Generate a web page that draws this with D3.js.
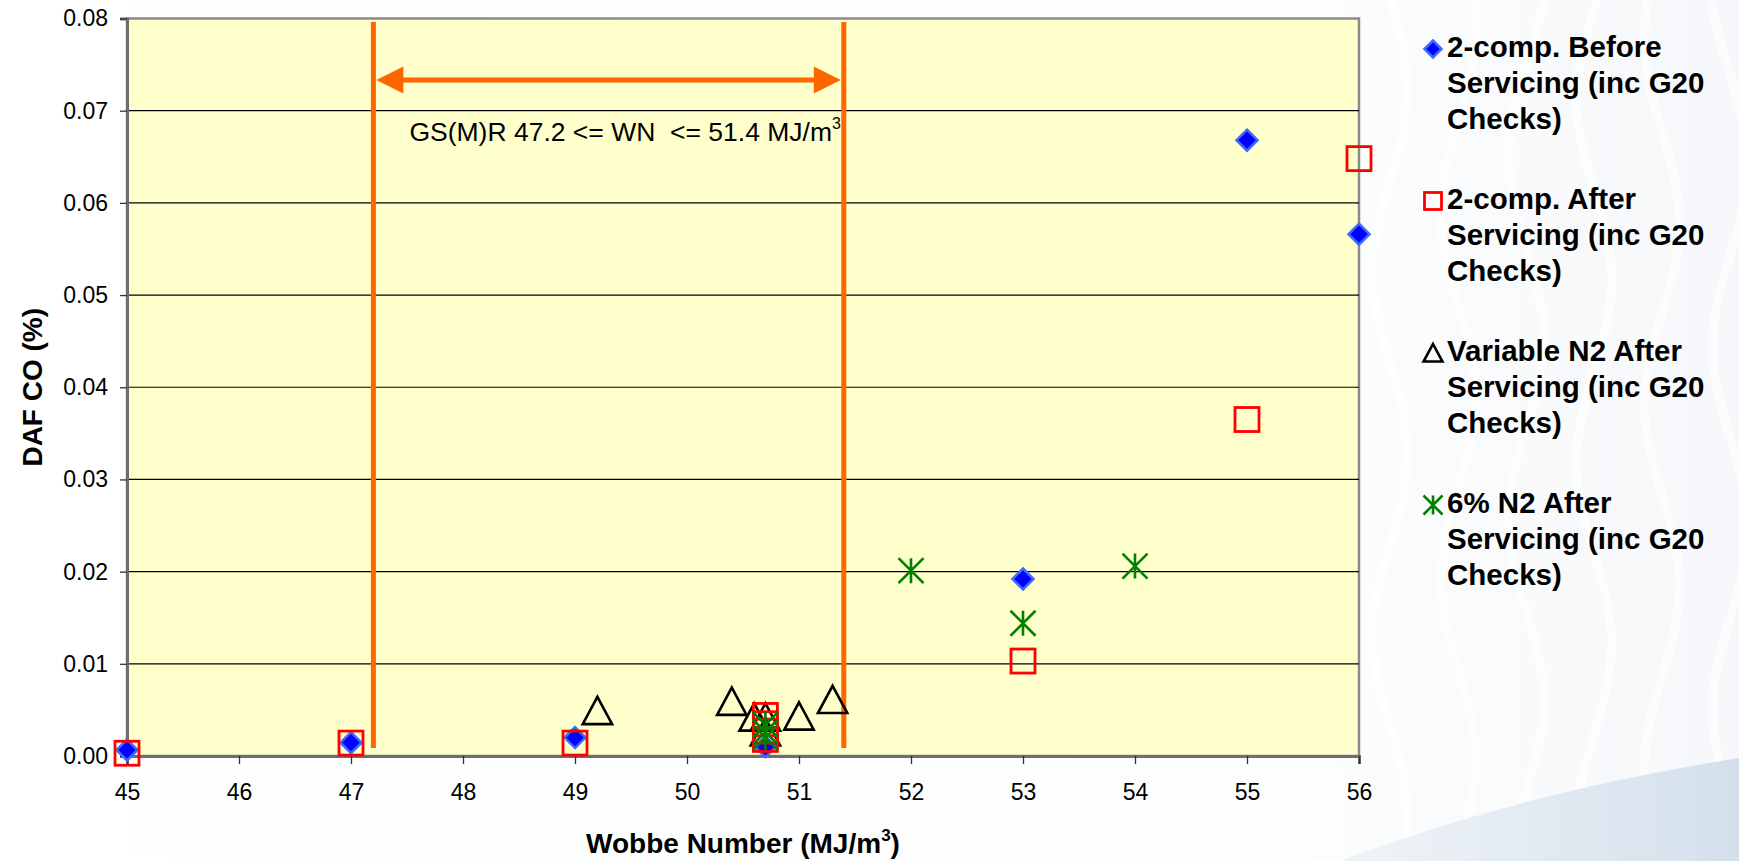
<!DOCTYPE html>
<html>
<head>
<meta charset="utf-8">
<script src="https://cdn.jsdelivr.net/npm/d3@7/dist/d3.min.js"></script>
<style>
  html, body { margin: 0; padding: 0; background: #ffffff; }
  svg { display: block; }
  text { font-family: "Liberation Sans", Arial, Helvetica, sans-serif; }
</style>
</head>
<body>
<svg id="chart" width="1739" height="861"></svg>
<script>
// Wobbe number (MJ/m3) against dry air-free CO (%)
const wobbeBefore = [45, 47, 49, 50.7, 53, 55, 56];
const coBefore    = [0.00065, 0.00145, 0.0020, 0.0010, 0.0192, 0.0668, 0.0566];

const wobbeAfter = [45, 47, 49, 50.7, 50.7, 50.7, 50.7, 53, 55, 56];
const coAfter    = [0.0003, 0.0014, 0.0014, 0.0044, 0.0035, 0.0027, 0.0018, 0.0103, 0.0365, 0.0648];

const wobbeVarN2 = [49.2, 50.4, 50.6, 50.7, 50.7, 51.0, 51.3];
const coVarN2    = [0.0049, 0.0059, 0.0042, 0.0042, 0.0026, 0.0043, 0.0061];

const wobbe6N2 = [50.7, 50.7, 50.7, 52, 53, 54];
const co6N2    = [0.0034, 0.0026, 0.0020, 0.0201, 0.0144, 0.0206];

const xTicks = [45, 46, 47, 48, 49, 50, 51, 52, 53, 54, 55, 56];
const yTicks = [0, 0.01, 0.02, 0.03, 0.04, 0.05, 0.06, 0.07, 0.08];

// GS(M)R permitted Wobbe range
const rangeLow = 47.2;
const rangeHigh = 51.4;

const seriesNames = [
  ["2-comp. Before", "Servicing (inc G20", "Checks)"],
  ["2-comp. After", "Servicing (inc G20", "Checks)"],
  ["Variable N2 After", "Servicing (inc G20", "Checks)"],
  ["6% N2 After", "Servicing (inc G20", "Checks)"]
];

const svg = d3.select("#chart");
const W = 1739, H = 861;

// ---- page backdrop ----
const defs = svg.append("defs");
const bg = defs.append("linearGradient").attr("id", "bgGrad")
  .attr("x1", "0").attr("y1", "0").attr("x2", "1").attr("y2", "0");
bg.append("stop").attr("offset", "0").attr("stop-color", "#ffffff");
bg.append("stop").attr("offset", "0.75").attr("stop-color", "#fcfdfd");
bg.append("stop").attr("offset", "1").attr("stop-color", "#f5f7fa");
svg.append("rect").attr("width", W).attr("height", H).attr("fill", "url(#bgGrad)");

// faint wave pattern on the right
const waves = svg.append("g").attr("fill", "none").attr("stroke", "#ffffff")
  .attr("stroke-width", 9).attr("opacity", 0.7);
for (let i = 0; i < 6; i++) {
  const x0 = 1390 + i * 68;
  const pts = d3.range(0, 18).map(k => [x0 + 20 * Math.sin(k * 0.9 + i), k * 52]);
  waves.append("path").attr("d", d3.line().curve(d3.curveBasis)(pts));
}

const swoosh = defs.append("linearGradient").attr("id", "swooshGrad")
  .attr("x1", "0").attr("y1", "0").attr("x2", "1").attr("y2", "0");
swoosh.append("stop").attr("offset", "0").attr("stop-color", "#f0f4f8");
swoosh.append("stop").attr("offset", "1").attr("stop-color", "#d3e0ec");
svg.append("path")
  .attr("d", "M1340,861 C1460,815 1600,780 1739,758 L1739,861 Z")
  .attr("fill", "url(#swooshGrad)");

// ---- scales ----
const plot = { left: 127, right: 1359, top: 18.5, bottom: 756 };
const x = d3.scaleLinear().domain([45, 56]).range([plot.left, plot.right]);
const y = d3.scaleLinear().domain([0, 0.08]).range([plot.bottom, plot.top]);

// plot area
svg.append("rect")
  .attr("x", plot.left).attr("y", plot.top)
  .attr("width", plot.right - plot.left).attr("height", plot.bottom - plot.top)
  .attr("fill", "#ffffcc").attr("stroke", "#8a8a8a").attr("stroke-width", 2.5);

// horizontal gridlines
svg.append("g").selectAll("line")
  .data(yTicks.filter(v => v > 0 && v < 0.08))
  .join("line")
  .attr("x1", plot.left).attr("x2", plot.right)
  .attr("y1", d => y(d)).attr("y2", d => y(d))
  .attr("stroke", "#000000").attr("stroke-width", 1.2);

// axes
const yAxis = d3.axisLeft(y).tickValues(yTicks).tickFormat(d3.format(".2f"))
  .tickSize(7).tickPadding(12);
const gy = svg.append("g").attr("transform", `translate(${plot.left},0)`).call(yAxis);
gy.select(".domain").attr("stroke", "#6e6e6e").attr("stroke-width", 3);
gy.selectAll(".tick line").attr("stroke", "#333").attr("stroke-width", 1.3);
gy.selectAll(".tick text").attr("font-size", 23).attr("fill", "#000")
  .attr("font-family", "Liberation Sans, Arial, sans-serif");

const xAxis = d3.axisBottom(x).tickValues(xTicks).tickFormat(d3.format("d"))
  .tickSize(8).tickPadding(20);
const gx = svg.append("g").attr("transform", `translate(0,${plot.bottom})`).call(xAxis);
gx.select(".domain").attr("stroke", "#6e6e6e").attr("stroke-width", 3);
gx.selectAll(".tick line").attr("stroke", "#333").attr("stroke-width", 1.3);
gx.selectAll(".tick text").attr("font-size", 23).attr("fill", "#000")
  .attr("font-family", "Liberation Sans, Arial, sans-serif");

// axis titles
const xt = svg.append("text")
  .attr("x", (plot.left + plot.right) / 2).attr("y", 853)
  .attr("text-anchor", "middle").attr("font-size", 28).attr("font-weight", "bold");
xt.append("tspan").text("Wobbe Number (MJ/m");
xt.append("tspan").text("3").attr("font-size", 17).attr("dy", -12);
xt.append("tspan").text(")").attr("dy", 12);

svg.append("text")
  .attr("transform", `translate(42,${(plot.top + plot.bottom) / 2}) rotate(-90)`)
  .attr("text-anchor", "middle").attr("font-size", 28).attr("font-weight", "bold")
  .text("DAF CO (%)");

// ---- GS(M)R range markers ----
const orange = "#ff6600";
const lineTop = 22, lineBottom = 748, arrowY = 80;
svg.append("g").selectAll("line")
  .data([rangeLow, rangeHigh])
  .join("line")
  .attr("x1", d => x(d)).attr("x2", d => x(d))
  .attr("y1", lineTop).attr("y2", lineBottom)
  .attr("stroke", orange).attr("stroke-width", 5);

const headLen = 27, headHalf = 13.5;
const ax1 = x(rangeLow) + 3, ax2 = x(rangeHigh) - 3;
svg.append("line")
  .attr("x1", ax1 + headLen - 2).attr("x2", ax2 - headLen + 2)
  .attr("y1", arrowY).attr("y2", arrowY)
  .attr("stroke", orange).attr("stroke-width", 5);
svg.append("path")
  .attr("d", `M${ax1},${arrowY} L${ax1 + headLen},${arrowY - headHalf} L${ax1 + headLen},${arrowY + headHalf} Z`)
  .attr("fill", orange);
svg.append("path")
  .attr("d", `M${ax2},${arrowY} L${ax2 - headLen},${arrowY - headHalf} L${ax2 - headLen},${arrowY + headHalf} Z`)
  .attr("fill", orange);

const note = svg.append("text")
  .attr("x", x(rangeLow) + 36).attr("y", 141)
  .attr("font-size", 26.5).attr("fill", "#000")
  .attr("xml:space", "preserve");
note.append("tspan").text(`GS(M)R ${rangeLow} <= WN  <= ${rangeHigh} MJ/m`);
note.append("tspan").text("3").attr("font-size", 16).attr("dy", -12);

// ---- marker shapes ----
function diamond(g, s) {
  g.append("path").attr("d", `M0,${-s} L${s},0 L0,${s} L${-s},0 Z`)
    .attr("fill", "#0000ff").attr("stroke", "#3d6bff").attr("stroke-width", 2.5);
}
function square(g, s) {
  g.append("rect").attr("x", -s).attr("y", -s).attr("width", 2 * s).attr("height", 2 * s)
    .attr("fill", "none").attr("stroke", "#ff0000").attr("stroke-width", 2.8);
}
function triangle(g, s) {
  g.append("path").attr("d", `M0,${-s} L${s * 1.05},${s * 0.95} L${-s * 1.05},${s * 0.95} Z`)
    .attr("fill", "none").attr("stroke", "#000").attr("stroke-width", 2.6);
}
function star(g, s) {
  g.append("path").attr("d", `M0,${-s} L0,${s} M${-s},${-s} L${s},${s} M${-s},${s} L${s},${-s}`)
    .attr("fill", "none").attr("stroke", "#008000").attr("stroke-width", 2.6);
}

function drawSeries(xs, ys, fn, size) {
  const g = svg.append("g");
  xs.forEach((xv, i) => {
    const m = g.append("g").attr("transform", `translate(${x(xv)},${y(ys[i])})`);
    fn(m, size);
  });
}

drawSeries(wobbeVarN2, coVarN2, triangle, 14);
drawSeries(wobbeBefore, coBefore, diamond, 10.5);
drawSeries(wobbeAfter, coAfter, square, 12);
drawSeries(wobbe6N2, co6N2, star, 12.5);

// ---- legend ----
const legendMarkers = [
  [diamond, 8.5], [square, 8.5], [triangle, 9], [star, 9.5]
];
const legendTextX = 1447;
const legend = svg.append("g");
seriesNames.forEach((lines, i) => {
  const base = 57 + i * 152;
  const mk = legend.append("g").attr("transform", `translate(1433,${base - 8})`);
  legendMarkers[i][0](mk, legendMarkers[i][1]);
  const t = legend.append("text").attr("x", legendTextX).attr("y", base)
    .attr("font-size", 29.5).attr("font-weight", "bold").attr("fill", "#000");
  lines.forEach((ln, j) => {
    t.append("tspan").attr("x", legendTextX).attr("y", base + j * 36).text(ln);
  });
});
</script>
</body>
</html>
